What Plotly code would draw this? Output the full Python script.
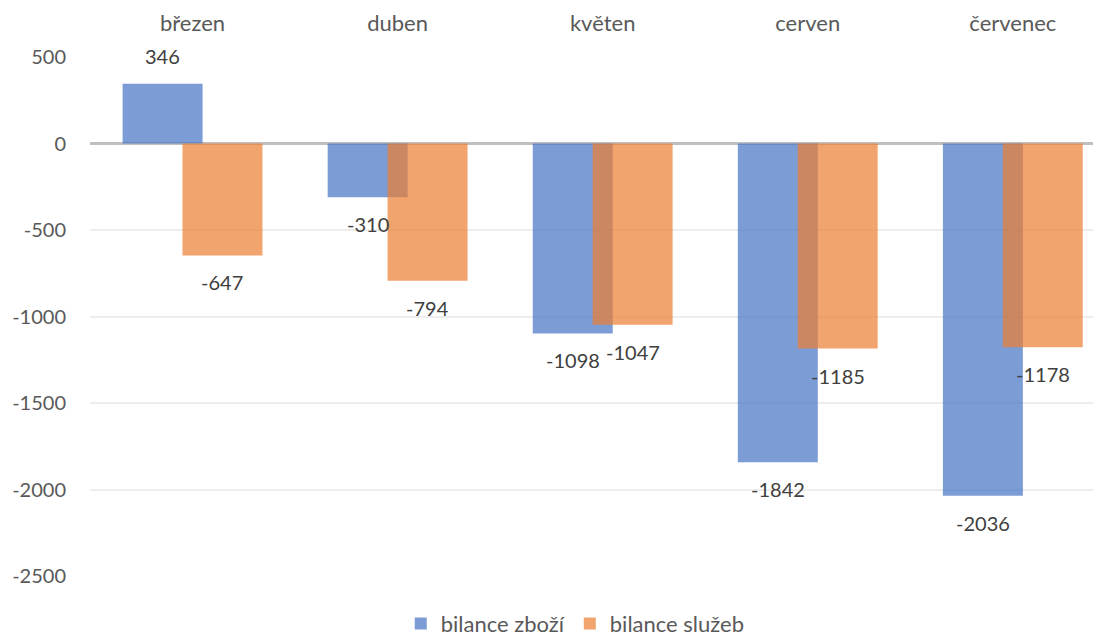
import plotly.graph_objects as go

months = ["březen", "duben", "květen", "cerven", "červenec"]
zbozi = [346, -310, -1098, -1842, -2036]
sluzby = [-647, -794, -1047, -1185, -1178]
tick_vals = [500, 0, -500, -1000, -1500, -2000, -2500]
tick_text = ["500", "0", "-500", "-1000", "-1500", "-2000", "-2500"]

FONT = "Lato"
BAR_W = 0.39
BLUE_OFF = -0.341
ORANGE_OFF = -0.049

fig = go.Figure()
fig.add_trace(go.Bar(
    x=months, y=zbozi, name="bilance zboží",
    marker=dict(color="rgba(68,114,196,0.7)", line=dict(width=0)),
    width=BAR_W, offset=BLUE_OFF,
))
fig.add_trace(go.Bar(
    x=months, y=sluzby, name="bilance služeb",
    marker=dict(color="rgba(237,125,49,0.7)", line=dict(width=0)),
    width=BAR_W, offset=ORANGE_OFF,
))

# data labels (outside end)
for series, off in ((zbozi, BLUE_OFF), (sluzby, ORANGE_OFF)):
    for i, v in enumerate(series):
        fig.add_annotation(
            x=i + off + BAR_W / 2, y=v, xref="x", yref="y",
            text=str(v), showarrow=False,
            yshift=28 if v > 0 else -27,
            font=dict(family=FONT, size=20, color="#404040"),
        )

fig.update_layout(
    width=1093, height=629,
    barmode="overlay",
    paper_bgcolor="white", plot_bgcolor="white",
    margin=dict(l=82, r=0, t=49, b=61, autoexpand=False),
    font=dict(family=FONT, size=20, color="#595959"),
    showlegend=True,
    legend=dict(orientation="h", xref="container", yref="container",
                x=0.519, xanchor="center", y=0.021, yanchor="middle",
                font=dict(family=FONT, size=22, color="#595959"),
                itemwidth=30, traceorder="normal"),
    xaxis=dict(
        type="category", side="top", range=[-0.5, 4.43],
        showgrid=False, showline=False, ticks="", zeroline=False,
        tickfont=dict(family=FONT, size=22, color="#595959"),
        ticklabelstandoff=21, automargin=False,
    ),
    yaxis=dict(
        range=[-2500, 500], tickvals=tick_vals, ticktext=tick_text,
        showgrid=True, gridcolor="#EDEDED", gridwidth=1.5,
        zeroline=True, zerolinecolor="#BFBFBF", zerolinewidth=3,
        showline=False, ticks="",
        tickfont=dict(family=FONT, size=20, color="#595959"),
        ticklabelstandoff=23, automargin=False,
    ),
)

fig.write_html("out.html")
